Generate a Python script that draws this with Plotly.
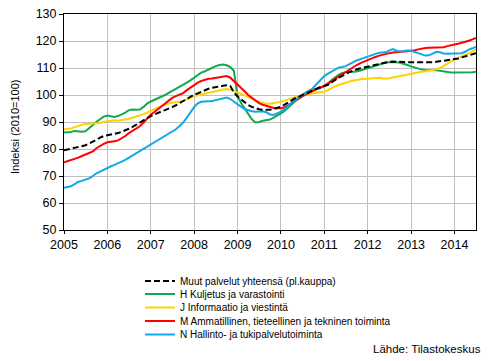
import pandas as pd
import plotly.graph_objects as go

months = pd.date_range("2005-01-01", periods=115, freq="MS")

muut = [
    79.5, 79.8, 80.1, 80.4, 80.7, 81.0, 81.4, 82.0, 82.8, 83.5, 84.2, 84.8,
    85.1, 85.3, 85.5, 85.9, 86.4, 86.9, 87.5, 88.2, 89.0, 89.9, 90.8, 91.6,
    92.2, 92.8, 93.4, 93.9, 94.4, 94.9, 95.5, 96.2, 97.0, 97.8, 98.6, 99.4,
    100.1, 100.6, 101.2, 101.8, 102.3, 102.7, 103.0, 103.2, 103.4, 103.6, 103.3, 101.0,
    99.4, 98.3, 97.2, 96.3, 95.6, 95.0, 94.7, 94.5, 94.4, 94.5, 94.8, 95.2,
    95.7, 96.4, 97.2, 98.0, 98.8, 99.4, 100.0, 100.6, 101.3, 102.0, 102.6, 103.0,
    103.3, 103.8, 104.6, 105.6, 106.4, 107.1, 107.9, 108.5, 109.0, 109.5, 109.9, 110.2,
    110.5, 110.9, 111.3, 111.6, 111.9, 112.1, 112.3, 112.4, 112.4, 112.3, 112.2, 112.1,
    112.1, 112.0, 111.9, 111.9, 111.9, 112.0, 112.1, 112.3, 112.5, 112.7, 112.9, 113.0,
    113.2, 113.5, 113.9, 114.3, 114.7, 115.1, 115.5,
]

kuljetus = [
    86.1, 86.1, 86.3, 86.7, 86.6, 86.4, 86.6, 87.6, 88.9, 90.1, 91.2, 92.0,
    92.4, 92.1, 91.9, 92.2, 92.7, 93.5, 94.4, 94.6, 94.5, 94.6, 95.6, 96.8,
    97.6, 98.2, 98.6, 99.3, 100.0, 100.8, 101.5, 102.2, 103.0, 103.8, 104.6, 105.4,
    106.3, 107.5, 108.3, 108.8, 109.4, 110.2, 110.7, 111.1, 111.3, 111.0, 110.3, 109.0,
    99.6, 96.9, 95.0, 93.2, 91.0, 89.8, 90.0, 90.5, 90.7, 90.9, 91.6, 92.3,
    93.2, 94.1, 95.2, 96.3, 97.6, 99.0, 100.2, 101.0, 101.8, 102.1, 102.2, 102.6,
    103.3, 104.3, 105.5, 106.6, 107.5, 108.2, 108.5, 108.6, 108.6, 108.7, 109.1, 109.5,
    109.9, 110.3, 110.8, 111.3, 111.7, 112.0, 112.1, 112.2, 112.1, 111.9, 111.6, 111.1,
    110.6, 110.1, 109.7, 109.4, 109.3, 109.3, 109.3, 109.2, 109.0, 108.7, 108.4, 108.3,
    108.3, 108.3, 108.3, 108.3, 108.3, 108.4, 108.6,
]

informaatio = [
    87.3, 87.4, 87.6, 88.1, 88.6, 89.0, 89.3, 89.4, 89.4, 89.4, 89.6, 90.0,
    90.3, 90.5, 90.6, 90.5, 90.7, 91.0, 91.2, 91.6, 92.0, 92.4, 92.9, 93.5,
    94.2, 94.8, 95.3, 95.9, 96.4, 96.8, 97.1, 97.4, 97.6, 97.8, 98.4, 99.0,
    99.5, 99.9, 100.3, 100.5, 100.8, 101.2, 101.5, 101.7, 102.0, 102.2, 102.0, 101.6,
    100.9, 100.4, 99.8, 99.3, 98.7, 98.0, 97.5, 97.1, 96.8, 96.8, 97.0, 97.2,
    97.5, 97.9, 98.4, 98.8, 99.2, 99.6, 99.8, 100.0, 100.3, 100.6, 100.9, 101.1,
    101.2, 101.8, 102.5, 103.2, 103.7, 104.2, 104.6, 105.0, 105.3, 105.6, 105.8, 105.9,
    106.0, 106.2, 106.3, 106.4, 106.2, 106.0, 106.2, 106.5, 106.6, 106.9, 107.3, 107.7,
    108.0, 108.2, 108.4, 108.6, 108.8, 109.0, 109.3, 109.5, 110.0, 110.7, 111.5, 112.4,
    113.2, 113.7, 114.2, 114.8, 115.4, 116.1, 116.9,
]

ammatillinen = [
    75.1, 75.5, 75.9, 76.3, 76.8, 77.4, 77.9, 78.3, 79.1, 80.3, 81.2, 81.9,
    82.5, 82.6, 82.9, 83.2, 83.9, 84.8, 85.9, 86.8, 87.6, 88.4, 89.8, 91.3,
    92.7, 93.7, 94.7, 95.6, 96.7, 97.9, 98.9, 99.6, 100.2, 100.7, 101.8, 102.8,
    103.8, 104.6, 105.2, 105.7, 106.0, 106.1, 106.3, 106.6, 106.9, 107.0, 106.4, 105.2,
    104.0, 102.8, 101.4, 100.0, 98.9, 97.8, 97.0, 96.4, 95.9, 95.5, 95.2, 95.1,
    95.1, 95.4, 96.2, 97.1, 98.0, 98.8, 99.5, 100.2, 100.9, 101.7, 102.4, 102.9,
    103.3, 104.1, 105.0, 105.9, 106.8, 107.7, 108.6, 109.5, 110.3, 111.1, 111.8, 112.4,
    113.0, 113.6, 114.0, 114.5, 114.9, 115.2, 115.5, 115.7, 115.9, 116.0, 116.1, 116.2,
    116.3, 116.6, 116.9, 117.2, 117.4, 117.5, 117.5, 117.6, 117.6, 117.7, 118.1, 118.5,
    118.7, 119.0, 119.3, 119.7, 120.1, 120.6, 121.1,
]

hallinto = [
    65.6, 65.8, 66.2, 67.0, 67.9, 68.2, 68.6, 69.1, 70.0, 71.0, 71.6, 72.3,
    73.1, 73.6, 74.1, 74.6, 75.3, 76.0, 76.8, 77.6, 78.4, 79.2, 80.0, 80.8,
    81.6, 82.4, 83.2, 84.0, 84.8, 85.6, 86.4, 87.3, 88.5, 89.8, 91.6, 93.6,
    95.5, 96.9, 97.5, 97.6, 97.6, 97.8, 98.1, 98.4, 98.8, 99.1, 98.5, 97.5,
    96.4, 95.6, 94.8, 94.3, 94.0, 93.8, 93.9, 94.0, 93.6, 92.8, 92.6, 93.1,
    93.8, 94.8, 96.0, 97.0, 98.1, 99.2, 99.9, 100.6, 101.5, 102.8, 104.3, 105.7,
    107.0, 107.9, 108.5, 109.3, 110.1, 110.4, 110.7, 111.4, 112.2, 112.8, 113.3, 113.8,
    114.3, 114.8, 115.3, 115.6, 115.7, 115.8, 116.5, 117.0, 116.4, 116.1, 116.3, 116.5,
    116.4, 116.0, 115.5, 115.0, 114.6, 114.7, 115.4, 116.0, 115.8, 115.4, 115.3, 115.4,
    115.4, 115.4, 115.5, 116.0, 116.8, 117.3, 117.9,
]

series_names = [
    "Muut palvelut yhteensä (pl.kauppa)",
    "H Kuljetus ja varastointi",
    "J Informaatio ja viestintä",
    "M Ammatillinen, tieteellinen ja tekninen toiminta",
    "N Hallinto- ja tukipalvelutoiminta",
]
series_values = [muut, kuljetus, informaatio, ammatillinen, hallinto]
series_colors = ["#000000", "#12aa50", "#ffd200", "#ff0000", "#12a8e8"]

year_ticks = [f"{y}-01-01" for y in range(2005, 2015)]
year_labels = [str(y) for y in range(2005, 2015)]

W, H = 498, 361
L, R, T, B = 64, 22, 14, 131
PW, PH = W - L - R, H - T - B
legend_rows_px = [281, 294, 307.5, 321, 334.5]
legend_ids = ["legend", "legend2", "legend3", "legend4", "legend5"]

fig = go.Figure()
order = [1, 2, 3, 4, 0]  # black dashed drawn on top
for i in order:
    fig.add_trace(go.Scatter(
        x=months, y=series_values[i], mode="lines", name=series_names[i],
        line=dict(color=series_colors[i], width=2,
                  dash="6px,3px" if i == 0 else "solid"),
        legend=legend_ids[i],
    ))

legend_font = dict(size=10, family="Liberation Sans, Arial, sans-serif", color="black")
layout_legends = {}
for k, lid in enumerate(legend_ids):
    layout_legends[lid] = dict(
        xref="container", yref="container",
        x=140 / W, y=1 - legend_rows_px[k] / H,
        xanchor="left", yanchor="middle",
        font=legend_font, itemwidth=30,
        bgcolor="rgba(0,0,0,0)", borderwidth=0,
    )

fig.update_layout(
    width=W, height=H,
    margin=dict(l=L, r=R, t=T, b=B, autoexpand=False),
    paper_bgcolor="white", plot_bgcolor="white",
    font=dict(family="Liberation Sans, Arial, sans-serif", size=12, color="black"),
    showlegend=True,
    annotations=[
        dict(
            text="Lähde: Tilastokeskus", xref="paper", yref="paper",
            x=(483 - L) / PW, y=(H - B - 349) / PH, xanchor="right", yanchor="middle",
            showarrow=False, font=dict(size=11.5),
        ),
        dict(
            text="Indeksi (2010=100)", xref="paper", yref="paper",
            x=(15 - L) / PW, y=(H - B - 127) / PH, xanchor="center", yanchor="middle",
            textangle=-90, showarrow=False, font=dict(size=11),
        ),
    ],
    **layout_legends,
)

fig.update_xaxes(
    range=["2005-01-01", "2014-07-01"],
    tickvals=year_ticks, ticktext=year_labels,
    showgrid=True, gridcolor="#bfbfbf", gridwidth=1,
    showline=True, linecolor="black", linewidth=1, mirror=True,
    ticks="outside", ticklen=3, tickcolor="black",
    tickfont=dict(size=12.5), automargin=False,
)
fig.update_yaxes(
    range=[50, 130], dtick=10,
    showgrid=True, gridcolor="#bfbfbf", gridwidth=1,
    showline=True, linecolor="black", linewidth=1, mirror=True,
    ticks="outside", ticklen=4, tickcolor="black",
    tickfont=dict(size=12.5), automargin=False,
    zeroline=False,
)

fig.write_html("out.html", config={"displayModeBar": False},
               post_script="document.body.style.margin='0';")
